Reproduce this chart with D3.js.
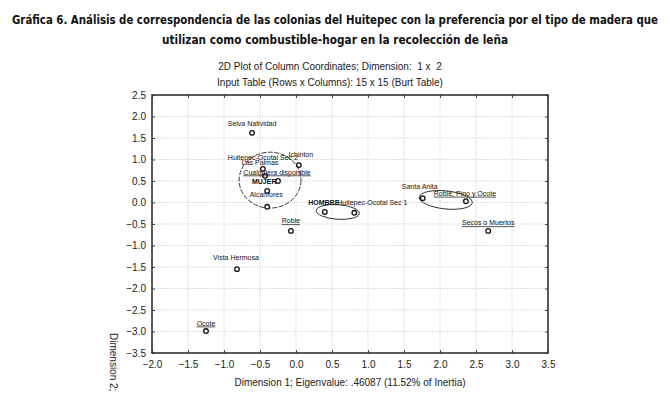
<!DOCTYPE html>
<html>
<head>
<meta charset="utf-8">
<script src="https://cdn.jsdelivr.net/npm/d3@7"></script>
<style>
  body { margin: 0; background: #fff; }
  svg { display: block; }
  .grid line { stroke: #bbb; stroke-dasharray: 1,1.5; stroke-width: 0.8; }
  .tick-label { font-family: "Liberation Sans", Arial, sans-serif; font-size: 10px; fill: #222; }
  .pt-label { font-family: "Liberation Sans", Arial, sans-serif; font-size: 7px; fill: #111; }
</style>
</head>
<body>
<svg id="chart"></svg>
<script>
// category names, coordinates on dimension 1 and 2
let names = ["Selva Natividad", "Ichinton", "Huitepec-Ocotal Sec 2", "Las Palmas", "Cualquiera disponible",
    "MUJER", "Alcanfores", "HOMBRE", "Huitepec-Ocotal Sec 1", "Santa Anita",
    "Roble, Pino y Ocote", "Secos o Muertos", "Roble", "Vista Hermosa", "Ocote"]
let dim1 = [-0.61, 0.04, -0.46, -0.43, -0.25, -0.40, -0.40, 0.40, 0.81, 1.76, 2.36, 2.67, -0.07, -0.82, -1.25]
let dim2 = [1.62, 0.87, 0.78, 0.62, 0.50, 0.27, -0.10, -0.22, -0.24, 0.10, 0.03, -0.66, -0.66, -1.55, -2.99]
// wood type categories are underlined in the original
let isWood = [false, false, false, false, true, false, false, false, false, false, true, true, true, false, true]

let xTicks = d3.range(-2.0, 3.51, 0.5)
let yTicks = d3.range(-3.5, 2.51, 0.5)

// hand drawn groupings: center x, center y, radius x, radius y (data units), rotation
let groups = [
    { cx: -0.36, cy: 0.52, rx: 0.43, ry: 0.65, rot: 0, dash: "5,1.5" },
    { cx: 0.58, cy: -0.22, rx: 0.30, ry: 0.17, rot: 4, dash: null },
    { cx: 2.08, cy: 0.06, rx: 0.37, ry: 0.21, rot: 6, dash: null }
]

// label nudges in px, relative to the point
let labelNudge = [[0, -9], [2, -11], [0, -11], [-5, -13], [-1, -9], [-3, -9], [-1, -12],
    [-1, -9], [18, -10], [-3, -12], [-1, -8], [0, -8], [0, -10], [-1, -12], [0, -8]]

const W = 670, H = 402
const margin = { left: 152, top: 95, right: 670 - 548, bottom: 402 - 353 }
const width = W - margin.left - margin.right
const height = H - margin.top - margin.bottom

let svg = d3.select("#chart").attr("width", W).attr("height", H)

// titles
svg.append("text")
    .attr("x", 335).attr("y", 24)
    .attr("text-anchor", "middle")
    .attr("textLength", 646).attr("lengthAdjust", "spacingAndGlyphs")
    .style("font-family", "'Liberation Sans Narrow', 'DejaVu Sans Condensed', sans-serif")
    .style("font-weight", "bold").style("font-size", "12.5px").style("fill", "#111")
    .text("Gráfica 6. Análisis de correspondencia de las colonias del Huitepec con la preferencia por el tipo de madera que")
svg.append("text")
    .attr("x", 335).attr("y", 44)
    .attr("text-anchor", "middle")
    .attr("textLength", 346).attr("lengthAdjust", "spacingAndGlyphs")
    .style("font-family", "'Liberation Sans Narrow', 'DejaVu Sans Condensed', sans-serif")
    .style("font-weight", "bold").style("font-size", "12.5px").style("fill", "#111")
    .text("utilizan como combustible-hogar en la recolección de leña")

svg.append("text").attr("class", "tick-label")
    .attr("x", 330).attr("y", 70).attr("text-anchor", "middle")
    .style("white-space", "pre")
    .text("2D Plot of Column Coordinates; Dimension:  1 x  2")
svg.append("text").attr("class", "tick-label")
    .attr("x", 330).attr("y", 86).attr("text-anchor", "middle")
    .text("Input Table (Rows x Columns): 15 x 15 (Burt Table)")

let g = svg.append("g")
    .attr("transform", "translate(" + margin.left + "," + margin.top + ")")

let x = d3.scaleLinear().domain([-2.0, 3.5]).range([0, width])
let y = d3.scaleLinear().domain([-3.5, 2.5]).range([height, 0])

// dotted grid
let grid = g.append("g").attr("class", "grid")
grid.selectAll(".vg").data(xTicks.slice(1, -1)).enter().append("line")
    .attr("x1", d => x(d)).attr("x2", d => x(d)).attr("y1", 0).attr("y2", height)
grid.selectAll(".hg").data(yTicks.slice(1, -1)).enter().append("line")
    .attr("y1", d => y(d)).attr("y2", d => y(d)).attr("x1", 0).attr("x2", width)

// axes with small inner ticks
let fmt = d3.format(".1f")
let xAxis = g.append("g").attr("transform", "translate(0," + height + ")")
    .call(d3.axisBottom(x).tickValues(xTicks).tickFormat(fmt).tickSize(-3).tickPadding(8))
let yAxis = g.append("g")
    .call(d3.axisLeft(y).tickValues(yTicks).tickFormat(fmt).tickSize(-3).tickPadding(6))
g.append("g").call(d3.axisTop(x).tickValues(xTicks).tickFormat("").tickSize(-3))
g.append("g").attr("transform", "translate(" + width + ",0)")
    .call(d3.axisRight(y).tickValues(yTicks).tickFormat("").tickSize(-3))
g.selectAll(".domain").remove()
g.selectAll(".tick line").attr("stroke", "#444")
;[xAxis, yAxis].forEach(a => a.selectAll("text").attr("class", "tick-label").attr("font-size", null).attr("font-family", null))

g.append("rect")
    .attr("width", width).attr("height", height)
    .attr("fill", "none").attr("stroke", "#333").attr("stroke-width", 1.6)

// axis titles
svg.append("text").attr("class", "tick-label")
    .attr("x", 350).attr("y", 386).attr("text-anchor", "middle")
    .text("Dimension 1; Eigenvalue: .46087 (11.52% of Inertia)")
svg.append("text").attr("class", "tick-label")
    .attr("transform", "translate(110,333) rotate(90)")
    .text("Dimension 2;")

// groupings
g.selectAll(".grp").data(groups).enter().append("ellipse")
    .attr("cx", d => x(d.cx)).attr("cy", d => y(d.cy))
    .attr("rx", d => x(d.rx) - x(0)).attr("ry", d => y(0) - y(d.ry))
    .attr("transform", d => "rotate(" + d.rot + "," + x(d.cx) + "," + y(d.cy) + ")")
    .attr("fill", "none").attr("stroke", "#222").attr("stroke-width", 0.9)
    .attr("stroke-dasharray", d => d.dash)

// points and labels
let data = names.map((n, i) => ({ name: n, d1: dim1[i], d2: dim2[i], wood: isWood[i], nudge: labelNudge[i] }))

g.selectAll(".pt").data(data).enter().append("circle")
    .attr("cx", d => x(d.d1)).attr("cy", d => y(d.d2))
    .attr("r", 2.3)
    .attr("fill", "#fff").attr("stroke", "#111").attr("stroke-width", 1.3)

g.selectAll(".pt-label").data(data).enter().append("text")
    .attr("class", "pt-label")
    .attr("x", d => x(d.d1) + d.nudge[0]).attr("y", d => y(d.d2) + d.nudge[1] + 2.5)
    .attr("text-anchor", "middle")
    .style("text-decoration", d => d.wood ? "underline" : null)
    .style("font-weight", d => (d.name == "HOMBRE" || d.name == "MUJER") ? "bold" : null)
    .text(d => d.name)
</script>
</body>
</html>
